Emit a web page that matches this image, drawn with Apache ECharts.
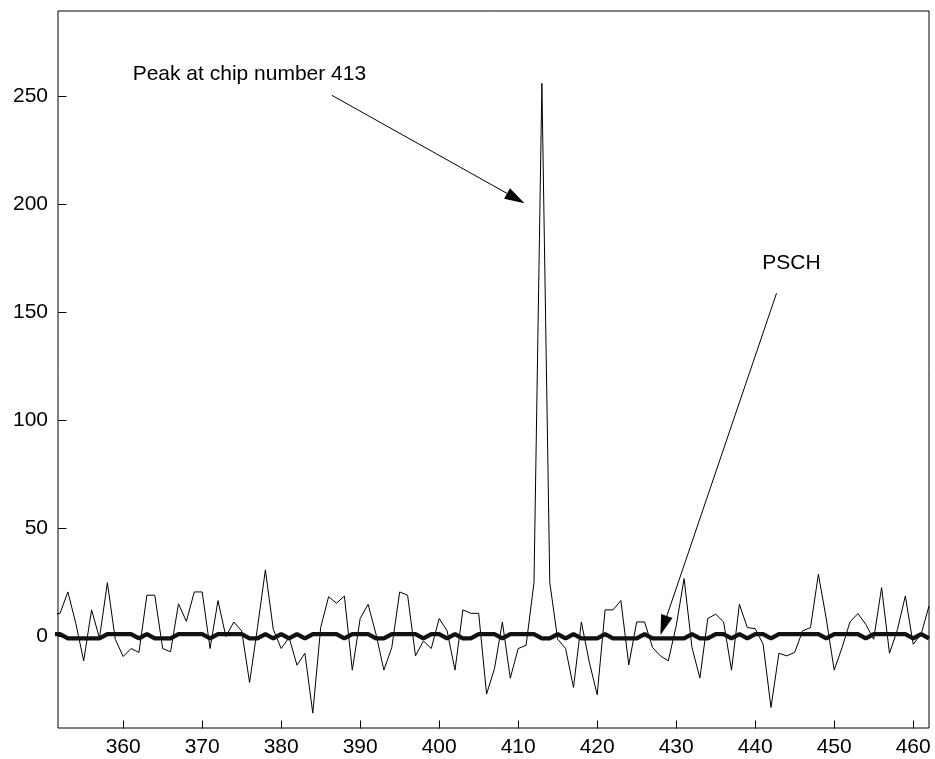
<!DOCTYPE html>
<html>
<head>
<meta charset="utf-8">
<title>Correlation peak</title>
<script src="https://cdn.jsdelivr.net/npm/echarts@6/dist/echarts.min.js"></script>
<style>
  html, body { margin: 0; padding: 0; background: #fff; }
  #chart { width: 935px; height: 759px; }
</style>
</head>
<body>
<div id="chart"></div>
<script>
  // chip index of the first sample
  const chipStart = 351

  // correlator output (thin line), one value per chip from chipStart
  const corrValues = [
    10.5, 10.5, 20.5, 6, -11.4, 12.2, -0.9, 24.8, -1.4, -9.4,
    -5.7, -7.5, 19, 19, -5.7, -7.2, 15, 6.9, 20.5, 20.5,
    -5.7, 16.5, -0.2, 6.6, 2.5, -21.4, 4, 30.7, 3.2, -5.7,
    -0.6, -13.4, -7.9, -35.6, 4, 18.3, 15.3, 18.6, -15.7, 8.2,
    14.8, 1, -15.7, -5.2, 20.5, 19, -9.1, -2.2, -5.7, 8.2,
    2.5, -15.7, 12.2, 10.6, 10.6, -26.8, -15, 6.6, -19.4, -5.7,
    -4.2, 24.8, 256, 24.8, -1.4, -5.7, -23.7, 6.6, -12, -27.1,
    12.2, 12.2, 16.5, -13.3, 6.6, 6.6, -5.2, -9.1, -11.4, 4.8,
    26.7, -5.2, -19.4, 8.2, 10.2, 6.6, -15.7, 14.8, 4, 3.5,
    -3.7, -33, -7.9, -9.1, -7.5, 2.5, 4, 28.7, 8, -15.7,
    -5.2, 6.6, 10.5, 5.5, -1.4, 22.5, -7.9, 3, 18.6, -3.7,
    0.9, 14
  ]

  // PSCH chips (thick line)
  const pschValues = [
    1, 1, -1, -1, -1, -1, -1, 1, 1, 1,
    1, -1, 1, -1, -1, -1, 1, 1, 1, 1,
    -1, 1, 1, 1, 1, -1, -1, 1, -1, 1,
    -1, 1, -1, 1, 1, 1, 1, -1, 1, 1,
    1, -1, -1, 1, 1, 1, 1, -1, 1, 1,
    -1, 1, -1, -1, 1, 1, 1, -1, 1, 1,
    1, 1, -1, -1, 1, -1, 1, -1, -1, -1,
    1, -1, -1, -1, -1, 1, -1, -1, -1, -1,
    -1, 1, -1, -1, 1, 1, -1, 1, -1, 1,
    1, -1, 1, 1, 1, 1, 1, 1, -1, 1,
    1, 1, 1, -1, 1, 1, 1, 1, 1, -1,
    1, -1
  ]

  const xTicks = [360, 370, 380, 390, 400, 410, 420, 430, 440, 450, 460]
  const yTicks = [0, 50, 100, 150, 200, 250]

  const xMin = 351.75
  const xMax = 462
  const yMin = -42.5
  const yMax = 289.5

  const fontFamily = '"Liberation Sans", Arial, sans-serif'

  const corrData = corrValues.map((v, i) => [chipStart + i, v])
  const pschData = pschValues.map((v, i) => [chipStart + i, v])

  const chart = echarts.init(document.getElementById('chart'))
  chart.setOption({
    animation: false,
    grid: {
      left: 58,
      right: 6,
      top: 11,
      bottom: 31,
      show: true,
      borderColor: '#000',
      borderWidth: 1
    },
    xAxis: {
      type: 'value',
      min: xMin,
      max: xMax,
      axisLine: { show: false },
      axisTick: { show: false },
      axisLabel: {
        color: '#000',
        fontSize: 21,
        fontFamily: fontFamily,
        margin: 9,
        customValues: xTicks
      },
      splitLine: { show: false }
    },
    yAxis: {
      type: 'value',
      min: yMin,
      max: yMax,
      axisLine: { show: false },
      axisTick: { show: false },
      axisLabel: {
        color: '#000',
        fontSize: 21,
        fontFamily: fontFamily,
        margin: 10,
        customValues: yTicks
      },
      splitLine: { show: false }
    },
    series: [
      {
        name: 'correlation',
        type: 'line',
        data: corrData,
        showSymbol: false,
        lineStyle: { color: '#000', width: 1 },
        clip: true
      },
      {
        name: 'PSCH',
        type: 'line',
        data: pschData,
        showSymbol: false,
        lineStyle: { color: '#111', width: 4.3 },
        clip: true
      }
    ]
  })

  // annotations, placed in data coordinates
  const peakText = { text: 'Peak at chip number 413', at: [361.2, 260.2] }
  const peakArrow = { from: [386.4, 250.5], to: [410.8, 200.5] }
  const pschText = { text: 'PSCH', at: [440.9, 172.5] }
  const pschArrow = { from: [442.7, 158.8], to: [428.0, 0.6] }

  function px(p) {
    return chart.convertToPixel({ gridIndex: 0 }, p)
  }

  function arrow(a) {
    const s = px(a.from)
    const e = px(a.to)
    const dx = e[0] - s[0]
    const dy = e[1] - s[1]
    const len = Math.sqrt(dx * dx + dy * dy)
    const ux = dx / len
    const uy = dy / len
    const headLen = 20
    const headW = 6
    const bx = e[0] - ux * headLen
    const by = e[1] - uy * headLen
    return [
      {
        type: 'line',
        shape: { x1: s[0], y1: s[1], x2: bx, y2: by },
        style: { stroke: '#000', lineWidth: 1 }
      },
      {
        type: 'polygon',
        shape: {
          points: [
            [e[0], e[1]],
            [bx - uy * headW, by + ux * headW],
            [bx + uy * headW, by - ux * headW]
          ]
        },
        style: { fill: '#000' }
      }
    ]
  }

  function label(t) {
    const p = px(t.at)
    return {
      type: 'text',
      x: p[0],
      y: p[1],
      style: {
        text: t.text,
        font: '21px ' + fontFamily,
        fill: '#000',
        textAlign: 'left',
        textVerticalAlign: 'middle'
      }
    }
  }

  // inward tick marks on the left and bottom frame lines
  const tickLen = 8
  const ticks = []
  const frameLeft = Math.round(chart.convertToPixel({ xAxisIndex: 0 }, xMin)) + 0.5
  const frameBottom = Math.round(chart.convertToPixel({ yAxisIndex: 0 }, yMin)) + 0.5
  xTicks.forEach(v => {
    const x = Math.round(chart.convertToPixel({ xAxisIndex: 0 }, v)) + 0.5
    ticks.push({
      type: 'line',
      z: 100,
      shape: { x1: x, y1: frameBottom, x2: x, y2: frameBottom - tickLen },
      style: { stroke: '#000', lineWidth: 1 }
    })
  })
  yTicks.forEach(v => {
    const y = Math.round(chart.convertToPixel({ yAxisIndex: 0 }, v)) + 0.5
    ticks.push({
      type: 'line',
      z: 100,
      shape: { x1: frameLeft, y1: y, x2: frameLeft + tickLen, y2: y },
      style: { stroke: '#000', lineWidth: 1 }
    })
  })

  chart.setOption({
    graphic: [
      label(peakText),
      label(pschText)
    ].concat(arrow(peakArrow), arrow(pschArrow), ticks)
  })
</script>
</body>
</html>
